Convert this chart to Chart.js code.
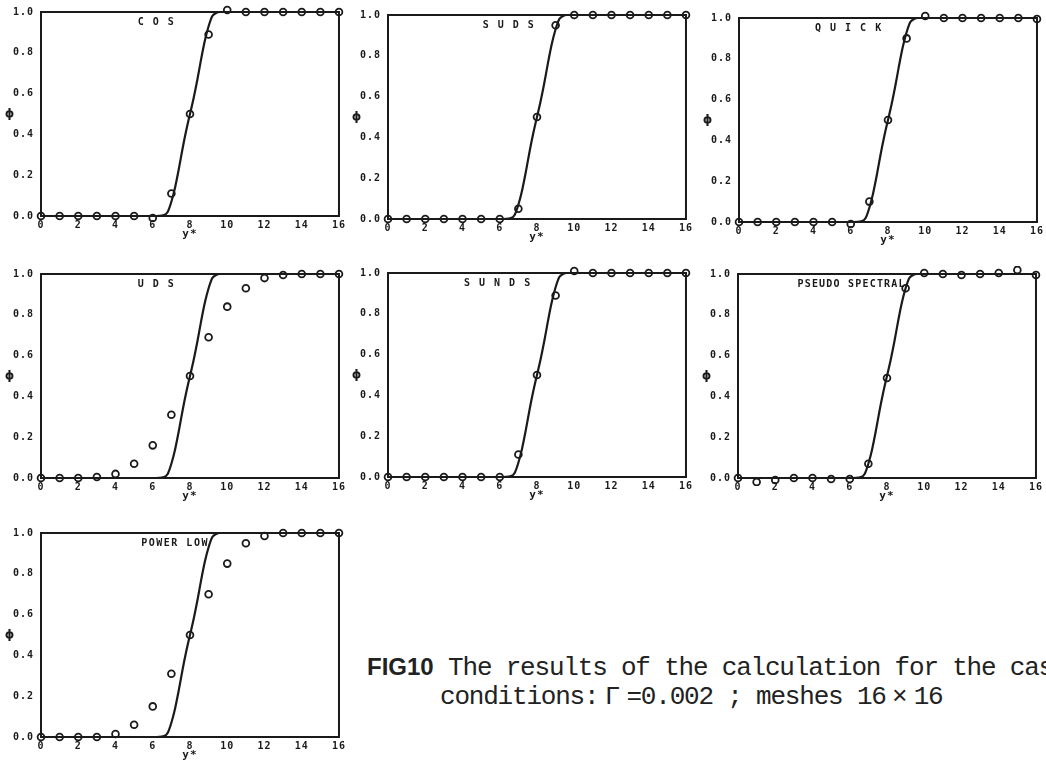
<!DOCTYPE html>
<html>
<head>
<meta charset="utf-8">
<script src="https://cdn.jsdelivr.net/npm/chart.js@4.4.0/dist/chart.umd.min.js"></script>
<style>
body { margin: 0; width: 1046px; height: 763px; overflow: hidden; background: #fff; position: relative; }
.panel { position: absolute; width: 348px; height: 243px; }
.line { position: absolute; white-space: nowrap; color: #222; font-family: "Liberation Mono", monospace; font-size: 26px; line-height: 26px; letter-spacing: -1.2px; }
.fig { font-family: "Liberation Sans", sans-serif; font-weight: bold; font-size: 24px; letter-spacing: 0; }
.wide { display: inline-block; width: 28px; text-align: center; letter-spacing: 0; }
</style>
</head>
<body>
<div class="panel" style="left:0px;top:-1px"><canvas id="c0"></canvas></div>
<div class="panel" style="left:347px;top:2px"><canvas id="c1"></canvas></div>
<div class="panel" style="left:698px;top:5px"><canvas id="c2"></canvas></div>
<div class="panel" style="left:0px;top:261px"><canvas id="c3"></canvas></div>
<div class="panel" style="left:347px;top:260px"><canvas id="c4"></canvas></div>
<div class="panel" style="left:697px;top:261px"><canvas id="c5"></canvas></div>
<div class="panel" style="left:0px;top:520px"><canvas id="c6"></canvas></div>

<div class="line" style="left:367px;top:654px"><span class="fig">FIG10</span> The results of the calculation for the case of the</div>
<div class="line" style="left:440px;top:684px">conditions:<span class="wide">Γ</span>=0.002 ; meshes 16<span class="wide">×</span>16</div>

<script>
"use strict";

// mesh positions y* and the exact profile
var yStar = [0, 1, 2, 3, 4, 5, 6, 7, 8, 9, 10, 11, 12, 13, 14, 15, 16];
var exactX   = [0, 6.0, 6.6, 6.8, 7.0, 7.2, 7.4, 7.6, 7.8, 8.0, 8.2, 8.4, 8.6, 8.8, 9.0, 9.2, 9.4, 9.6, 16];
var exactPhi = [0, 0, 0.005, 0.02, 0.07, 0.14, 0.23, 0.33, 0.42, 0.50, 0.58, 0.67, 0.77, 0.86, 0.93, 0.98, 0.995, 1, 1];

// computed phi per scheme
var cosPhi    = [0, 0, 0, 0, 0, 0, -0.01, 0.11, 0.50, 0.89, 1.01, 1.0, 1.0, 1.0, 1.0, 1.0, 1.0];
var sudsPhi   = [0, 0, 0, 0, 0, 0, 0, 0.05, 0.50, 0.95, 1.0, 1.0, 1.0, 1.0, 1.0, 1.0, 1.0];
var quickPhi  = [0, 0, 0, 0, 0, 0, -0.01, 0.10, 0.50, 0.90, 1.01, 1.0, 1.0, 1.0, 1.0, 1.0, 0.995];
var udsPhi    = [0, 0, 0, 0.005, 0.02, 0.07, 0.16, 0.31, 0.50, 0.69, 0.84, 0.93, 0.98, 0.995, 1.0, 1.0, 1.0];
var sundsPhi  = [0, 0, 0, 0, 0, 0, 0, 0.11, 0.50, 0.89, 1.01, 1.0, 1.0, 1.0, 1.0, 1.0, 1.0];
var pseudoPhi = [0, -0.02, -0.01, 0, 0, -0.005, -0.005, 0.07, 0.49, 0.93, 1.005, 1.0, 0.995, 1.0, 1.005, 1.02, 0.995];
var powerPhi  = [0, 0, 0, 0, 0.015, 0.06, 0.15, 0.31, 0.50, 0.70, 0.85, 0.95, 0.985, 1.0, 1.0, 1.0, 1.0];

var xTicks = [0, 2, 4, 6, 8, 10, 12, 14, 16];
var yTicks = [0, 0.2, 0.4, 0.6, 0.8, 1.0];

var panels = [
    { id: 'c0', title: 'COS', phi: cosPhi, titleAt: 6.4, spacing: 9 },
    { id: 'c1', title: 'SUDS', phi: sudsPhi, titleAt: 6.7, spacing: 9 },
    { id: 'c2', title: 'QUICK', phi: quickPhi, titleAt: 6.1, spacing: 9 },
    { id: 'c3', title: 'UDS', phi: udsPhi, titleAt: 6.4, spacing: 9 },
    { id: 'c4', title: 'SUNDS', phi: sundsPhi, titleAt: 6.1, spacing: 9 },
    { id: 'c5', title: 'PSEUDO SPECTRAL', phi: pseudoPhi, titleAt: 6.1, spacing: 1.2 },
    { id: 'c6', title: 'POWER LOW', phi: powerPhi, titleAt: 7.2, spacing: 1.5 }
];

var INK = '#1a1a1a';
var tickFont = { family: '"DejaVu Sans Mono", monospace', size: 10, weight: 'bold' };

var framePlugin = {
    id: 'frame',
    beforeDraw: function(chart) {
        if ('letterSpacing' in chart.ctx) { chart.ctx.letterSpacing = '1px'; }
    },
    beforeDatasetsDraw: function(chart) {
        var a = chart.chartArea, ctx = chart.ctx;
        ctx.save();
        ctx.strokeStyle = INK;
        ctx.lineWidth = 2;
        ctx.strokeRect(a.left, a.top, a.right - a.left, a.bottom - a.top);
        ctx.restore();
    },
    afterDraw: function(chart) {
        var p = chart.options.plugins.frame, ctx = chart.ctx;
        ctx.save();
        ctx.fillStyle = INK;
        ctx.textBaseline = 'middle';
        ctx.textAlign = 'center';
        ctx.font = 'bold 12px "DejaVu Sans"';
        ctx.fillText('\u03D5', 10, chart.scales.y.getPixelForValue(0.5));
        ctx.font = 'bold 10px "DejaVu Sans Mono"';
        if ('letterSpacing' in ctx) { ctx.letterSpacing = p.spacing + 'px'; }
        ctx.fillText(p.title, chart.scales.x.getPixelForValue(p.titleAt), chart.chartArea.top + 10);
        ctx.restore();
    }
};

panels.forEach(function(p) {
    new Chart(document.getElementById(p.id), {
        type: 'line',
        data: {
            datasets: [{
                data: exactX.map(function(x, i) { return { x: x, y: exactPhi[i] }; }),
                borderColor: INK,
                borderWidth: 2.2,
                pointRadius: 0,
                cubicInterpolationMode: 'monotone'
            }, {
                data: yStar.map(function(x, i) { return { x: x, y: p.phi[i] }; }),
                showLine: false,
                pointRadius: 3.4,
                pointBorderWidth: 1.8,
                pointBorderColor: INK,
                pointBackgroundColor: 'rgba(0,0,0,0)',
                clip: 8
            }]
        },
        options: {
            responsive: true,
            maintainAspectRatio: false,
            animation: false,
            events: [],
            layout: { padding: { top: 12, right: 3, left: 0, bottom: 0 } },
            plugins: {
                legend: { display: false },
                tooltip: { enabled: false },
                frame: { title: p.title, titleAt: p.titleAt, spacing: p.spacing }
            },
            scales: {
                x: {
                    type: 'linear',
                    min: 0,
                    max: 16,
                    afterFit: function(s) { s.height = 26; },
                    afterBuildTicks: function(s) { s.ticks = xTicks.map(function(v) { return { value: v }; }); },
                    grid: { display: false, drawTicks: false },
                    border: { display: false },
                    ticks: { padding: 3, color: INK, font: tickFont, maxRotation: 0, callback: function(v) { return v; } },
                    title: { display: true, text: 'y*', color: INK, font: { family: '"DejaVu Sans Mono", monospace', size: 11, weight: 'bold' }, padding: { top: 0, bottom: 1 } }
                },
                y: {
                    min: 0,
                    max: 1,
                    afterFit: function(s) { s.width = 41; },
                    afterBuildTicks: function(s) { s.ticks = yTicks.map(function(v) { return { value: v }; }); },
                    grid: { display: false, drawTicks: false },
                    border: { display: false },
                    ticks: { padding: 7, color: INK, font: tickFont, callback: function(v) { return v.toFixed(1); } }
                }
            }
        },
        plugins: [framePlugin]
    });
});
</script>
</body>
</html>
